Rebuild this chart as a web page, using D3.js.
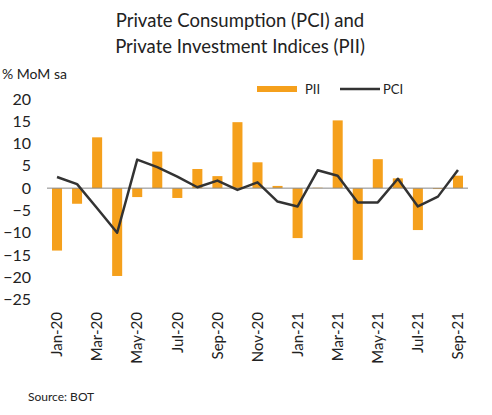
<!DOCTYPE html>
<html>
<head>
<meta charset="utf-8">
<script src="https://cdn.jsdelivr.net/npm/d3@7"></script>
<style>
body { margin: 0; background: #fff; }
text { font-family: Lato, "Open Sans", sans-serif; fill: #222; }
</style>
</head>
<body>
<svg id="chart"></svg>
<script>
const months = ["Jan-20","Feb-20","Mar-20","Apr-20","May-20","Jun-20","Jul-20","Aug-20","Sep-20","Oct-20","Nov-20","Dec-20",
                "Jan-21","Feb-21","Mar-21","Apr-21","May-21","Jun-21","Jul-21","Aug-21","Sep-21"];
const pii = [-14, -3.5, 11.4, -19.7, -2.0, 8.2, -2.2, 4.3, 2.7, 14.8, 5.8, 0.5,
             -11.2, 0.1, 15.2, -16.1, 6.5, 2.2, -9.4, -0.2, 2.8];
const pci = [2.5, 0.9, -4.5, -10, 6.4, 4.7, 2.6, 0.2, 1.7, -0.4, 1.3, -3.0,
             -4.1, 4.0, 2.8, -3.2, -3.2, 2.1, -4.1, -1.9, 4.1];
const yTicks = [20, 15, 10, 5, 0, -5, -10, -15, -20, -25];

let svgWidth = 492, svgHeight = 415;
const svg = d3.select("#chart").attr("width", svgWidth).attr("height", svgHeight);

const x = d3.scaleBand().domain(months).range([47, 468]).paddingInner(0.5).paddingOuter(0.25);
const y = d3.scaleLinear().domain([-25, 20]).range([299.6, 99]);

// title
svg.append("text").attr("x", 240).attr("y", 27).attr("text-anchor", "middle")
    .style("font-size", "18.5px").text("Private Consumption (PCI) and");
svg.append("text").attr("x", 240).attr("y", 53).attr("text-anchor", "middle")
    .style("font-size", "18.5px").text("Private Investment Indices (PII)");

svg.append("text").attr("x", 2).attr("y", 79).style("font-size", "14px").text("% MoM sa");

// y axis labels only
const yAxis = d3.axisLeft(y).tickValues(yTicks).tickSize(0).tickPadding(0);
const gy = svg.append("g").attr("transform", "translate(31,0)").call(yAxis);
gy.select(".domain").remove();
gy.selectAll("text").style("font-size", "16px").style("font-family", "Lato, sans-serif").attr("fill", "#222");

// bars
svg.selectAll("rect.bar")
    .data(pii)
    .enter()
    .append("rect")
    .attr("class", "bar")
    .attr("x", (d, i) => x(months[i]))
    .attr("width", x.bandwidth())
    .attr("y", d => y(Math.max(0, d)))
    .attr("height", d => Math.abs(y(d) - y(0)))
    .attr("fill", "#F5A01C");

// zero line
svg.append("line")
    .attr("x1", 47).attr("x2", 468)
    .attr("y1", y(0)).attr("y2", y(0))
    .attr("stroke", "#888").attr("stroke-width", 1);

// pci line
const line = d3.line()
    .x((d, i) => x(months[i]) + x.bandwidth() / 2)
    .y(d => y(d));
svg.append("path")
    .datum(pci)
    .attr("d", line)
    .attr("fill", "none")
    .attr("stroke", "#333")
    .attr("stroke-width", 2.5)
    .attr("stroke-linejoin", "round");

// x labels, every other month
const xAxis = d3.axisBottom(x).tickValues(months.filter((m, i) => i % 2 == 0)).tickSize(0).tickPadding(0);
const gx = svg.append("g").attr("transform", "translate(0,312)").call(xAxis);
gx.select(".domain").remove();
gx.selectAll("text")
    .attr("transform", "rotate(-90)")
    .attr("text-anchor", "end")
    .attr("dy", "0.35em")
    .attr("x", 0).attr("y", 0)
    .style("font-size", "15px").style("font-family", "Lato, sans-serif").attr("fill", "#222");

// legend
svg.append("rect").attr("x", 257).attr("y", 86).attr("width", 40).attr("height", 6).attr("fill", "#F5A01C");
svg.append("text").attr("x", 305).attr("y", 94).style("font-size", "13px").text("PII");
svg.append("line").attr("x1", 340).attr("x2", 380).attr("y1", 89).attr("y2", 89)
    .attr("stroke", "#333").attr("stroke-width", 2.5);
svg.append("text").attr("x", 383).attr("y", 94).style("font-size", "13px").text("PCI");

svg.append("text").attr("x", 28).attr("y", 401).style("font-size", "12px").text("Source:  BOT");
</script>
</body>
</html>
